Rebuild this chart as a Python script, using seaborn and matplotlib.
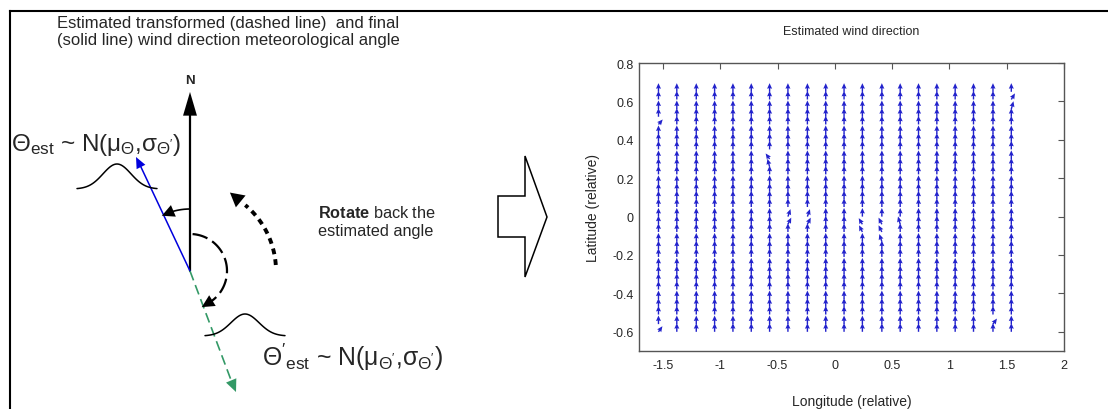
import numpy as np
import matplotlib
matplotlib.use("Agg")
import matplotlib.pyplot as plt
from matplotlib.patches import Polygon
import seaborn as sns

# ---- data: estimated wind direction field ----
lon = [-1.54, -1.38, -1.21, -1.05, -0.89, -0.73, -0.57, -0.41, -0.24, -0.08,
       0.08, 0.24, 0.41, 0.57, 0.73, 0.89, 1.05, 1.21, 1.38, 1.54]
lat = [-0.60, -0.56, -0.51, -0.47, -0.43, -0.38, -0.34, -0.30, -0.26, -0.21,
       -0.17, -0.13, -0.08, -0.04, 0.00, 0.05, 0.09, 0.13, 0.17, 0.22,
       0.26, 0.30, 0.35, 0.39, 0.43, 0.48, 0.52, 0.56, 0.61, 0.65]
# cells where the direction is not due north (deg, clockwise)
dev_col = [0, 0, 6, 6, 7, 7, 8, 8, 11, 11, 12, 12, 12, 13, 18, 19, 19]
dev_row = [0, 25, 20, 21, 13, 14, 13, 14, 12, 13, 11, 12, 13, 13, 1, 27, 28]
dev_angle = [50, 55, -25, -50, 40, 30, 40, 30, -40, -45, -30, -40, -40, -25, 50, 25, 45]
arrow_len = 0.045

xticks = [-1.5, -1, -0.5, 0, 0.5, 1, 1.5, 2]
xtick_labels = ["-1.5", "-1", "-0.5", "0", "0.5", "1", "1.5", "2"]
yticks = [-0.6, -0.4, -0.2, 0, 0.2, 0.4, 0.6, 0.8]
ytick_labels = ["-0.6", "-0.4", "-0.2", "0", "0.2", "0.4", "0.6", "0.8"]

sns.set_style("white")
plt.rcParams["font.family"] = ["Liberation Sans", "DejaVu Sans"]
plt.rcParams["mathtext.fontset"] = "custom"
plt.rcParams["mathtext.rm"] = "Liberation Sans"
plt.rcParams["mathtext.it"] = "Liberation Sans"
plt.rcParams["mathtext.bf"] = "Liberation Sans:bold"
plt.rcParams["axes.unicode_minus"] = False

fig = plt.figure(figsize=(11.08, 4.10), dpi=100)

# ---- left: schematic, drawn in pixel coordinates ----
ax0 = fig.add_axes([0, 0, 1, 1])
ax0.set_xlim(0, 1108)
ax0.set_ylim(410, 0)
ax0.axis("off")

# outer frame (top and left)
ax0.plot([10, 10], [12, 412], color="black", lw=1.5, solid_capstyle="projecting")
ax0.plot([10, 1110], [12, 12], color="black", lw=1.5, solid_capstyle="projecting")


def head(tip, base, color, hl, hw):
    ax0.annotate("", xy=tip, xytext=base,
                 arrowprops=dict(arrowstyle=f"-|>,head_length={hl},head_width={hw}",
                                 color=color, lw=0.01, shrinkA=0, shrinkB=0,
                                 mutation_scale=1))


def arc(cx, cy, r, a0, a1, n=80):
    a = np.radians(np.linspace(a0, a1, n))
    return cx + r * np.sin(a), cy - r * np.cos(a)


px, py = 190, 272  # pivot

# north arrow
ax0.plot([px, px], [py, 112], color="black", lw=1.6)
head((px, 93), (px, 113), "black", 17, 5)
ax0.text(px, 84, "N", ha="center", va="baseline", fontsize=9.5, fontweight="bold")

# blue (final) direction
ax0.plot([px, 140], [py, 166], color="#0000dd", lw=1.1)
head((136, 158), (141, 168), "#0000dd", 8, 3.5)

# green dashed (transformed) direction
ax0.plot([px, 231], [py, 381], color="#339966", lw=1.2, ls=(0, (6, 3)))
head((236, 393), (231, 381), "#339966", 9, 4)

# small solid arc to the blue direction
ax_, ay_ = arc(px, py, 62, 0, -19)
ax0.plot(ax_, ay_, color="black", lw=1.2)
tx, ty = arc(px, py, 62, -27, -27, 1)
bx, by = arc(px, py, 62, -19, -19, 1)
head((tx[0], ty[0]), (bx[0], by[0]), "black", 9, 4.5)

# dashed arc to the green direction
ax_, ay_ = arc(px, py, 37, 4, 148)
ax0.plot(ax_, ay_, color="black", lw=1.6, ls=(0, (7, 2.5)))
tx, ty = arc(px, py, 38, 162, 162, 1)
bx, by = arc(px, py, 37, 146, 146, 1)
head((tx[0], ty[0]), (bx[0], by[0]), "black", 9, 4.5)

# thick dotted "rotate back" arc
ax_, ay_ = arc(px, py, 86, 86, 40)
ax0.plot(ax_, ay_, color="black", lw=2.8, ls=(0, (1.5, 1.3)))
tx, ty = arc(px, py, 88, 27, 27, 1)
bx, by = arc(px, py, 86, 38, 38, 1)
head((tx[0], ty[0]), (bx[0], by[0]), "black", 10, 5.5)

# gaussian bumps
bump_x = np.linspace(-40, 40, 81)
bump_y = np.exp(-0.5 * (bump_x / 14.0) ** 2)
sns.lineplot(x=117 + bump_x, y=190 - 25 * bump_y, ax=ax0, color="black", lw=1.1)
sns.lineplot(x=245 + bump_x, y=337 - 22 * bump_y, ax=ax0, color="black", lw=1.1)

# texts
ax0.text(57, 28, "Estimated transformed (dashed line)  and final",
         fontsize=12, va="baseline")
ax0.text(57, 45, "(solid line) wind direction meteorological angle",
         fontsize=12, va="baseline")
ax0.text(318, 218, r"$\mathbf{Rotate}$ back the", fontsize=11.7, va="baseline")
ax0.text(318, 236, "estimated angle", fontsize=11.7, va="baseline")
ax0.text(11, 151, r"$\Theta_{\mathrm{est}}$ ~ N($\mu_{\Theta}$,$\sigma_{\Theta'}$)",
         fontsize=17.5, va="baseline")
ax0.text(262, 366, r"$\Theta'_{\mathrm{est}}$ ~ N($\mu_{\Theta'}$,$\sigma_{\Theta'}$)",
         fontsize=17.8, va="baseline")

# hollow block arrow
ax0.add_patch(Polygon([(498, 197), (525, 197), (525, 157), (547, 218),
                       (525, 278), (525, 238), (498, 238)],
                      closed=True, fill=False, edgecolor="black", lw=1.1))

# ---- right: quiver plot ----
ax = fig.add_axes([639 / 1108, 58 / 410, 425 / 1108, 288 / 410])
ax.set_facecolor("white")

X, Y = np.meshgrid(lon, lat)
ang = np.zeros(X.shape)
ang[dev_row, dev_col] = dev_angle
U = arrow_len * np.sin(np.radians(ang))
V = arrow_len * np.cos(np.radians(ang))
ax.quiver(X, Y, U, V, angles="xy", scale_units="xy", scale=1,
          color="#2222cc", units="dots", width=1.4,
          headwidth=3.6, headlength=4, headaxislength=3.6, pivot="tail")

ax.set_xlim(-1.71, 2.0)
ax.set_ylim(-0.7, 0.8)
ax.set_xticks(xticks)
ax.set_xticklabels(xtick_labels)
ax.set_yticks(yticks)
ax.set_yticklabels(ytick_labels)
ax.tick_params(direction="in", length=4, width=0.8, color="#555555",
               top=True, right=True, labelsize=9, pad=6)
ax.tick_params(axis="y", pad=4)
for s in ax.spines.values():
    s.set_visible(True)
    s.set_color("#555555")
    s.set_linewidth(1.0)

ax.set_title("Estimated wind direction", fontsize=9, pad=21)
ax.set_xlabel("Longitude (relative)", fontsize=10, labelpad=16)
ax.set_ylabel("Latitude (relative)", fontsize=10, labelpad=9)

fig.savefig("out.png", dpi=100)
